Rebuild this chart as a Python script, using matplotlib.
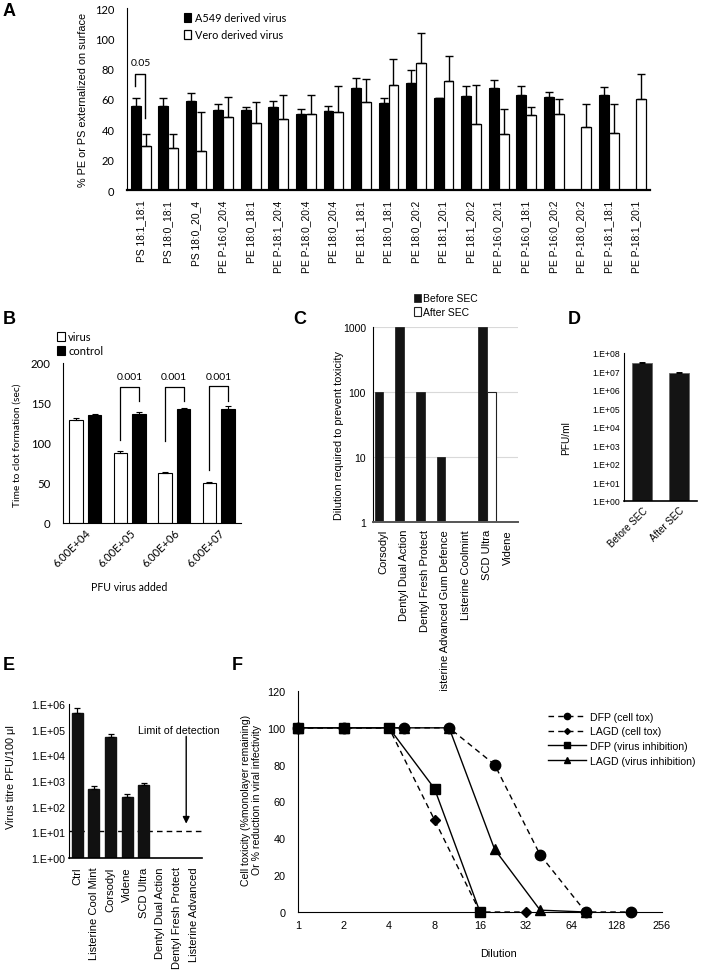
import numpy as np
import matplotlib
matplotlib.use('Agg')
import matplotlib.pyplot as plt
from matplotlib.ticker import FixedLocator, NullLocator, FuncFormatter

plt.rcParams['font.family'] = ['Liberation Sans', 'DejaVu Sans']
CAL = ['Lato', 'DejaVu Sans']

# ---------------- data ----------------
a_categories = ["PS 18:1_18:1", "PS 18:0_18:1", "PS 18:0_20_4", "PE P-16:0_20:4",
                "PE 18:0_18:1", "PE P-18:1_20:4", "PE P-18:0_20:4", "PE 18:0_20:4",
                "PE 18:1_18:1", "PE 18:0_18:1", "PE 18:0_20:2", "PE 18:1_20:1",
                "PE 18:1_20:2", "PE P-16:0_20:1", "PE P-16:0_18:1", "PE P-16:0_20:2",
                "PE P-18:0_20:2", "PE P-18:1_18:1", "PE P-18:1_20:1"]
a549_vals = [55.6, 55.4, 58.5, 52.7, 52.5, 54.7, 49.9, 51.8, 67.5, 57.1, 70.8, 60.4,
             61.8, 67.1, 62.7, 61.3, np.nan, 62.7, np.nan]
a549_err = [5.0, 5.5, 5.3, 4.0, 2.0, 4.0, 3.3, 3.3, 6.2, 3.5, 8.6, 0.5,
            6.6, 5.3, 6.1, 3.1, np.nan, 5.5, np.nan]
vero_vals = [29.1, 28.0, 26.0, 47.9, 43.9, 46.8, 49.9, 51.6, 57.8, 69.3, 83.6, 71.7,
             43.5, 36.8, 49.2, 49.9, 41.5, 37.5, 60.2]
vero_err = [7.7, 8.6, 25.6, 13.2, 14.3, 15.9, 13.0, 17.2, 15.4, 16.8, 19.9, 16.5,
            25.8, 16.6, 5.7, 10.3, 15.4, 19.2, 16.3]
a_sig_label = "0.05"
a_sig_low = [68.4, 47.4]
a_sig_top = 76.3

b_categories = ["6.00E+04", "6.00E+05", "6.00E+06", "6.00E+07"]
b_virus = [129.2, 87.9, 62.5, 49.6]
b_virus_err = [2.1, 2.5, 0.8, 1.7]
b_control = [135.0, 136.3, 142.1, 142.1]
b_control_err = [1.3, 2.5, 2.1, 3.7]
b_pvals = [None, "0.001", "0.001", "0.001"]
b_br_left = [np.nan, 104.0, 102.5, 66.0]
b_br_top = [np.nan, 170.0, 170.0, 171.0]
b_br_right = [np.nan, 152.0, 152.0, 152.0]

c_categories = ["Corsodyl", "Dentyl Dual Action", "Dentyl Fresh Protect",
                "Listerine Advanced Gum Defence", "Listerine Coolmint", "SCD Ultra", "Videne"]
c_before = [100, 1000, 100, 10, np.nan, 1000, np.nan]
c_after = [np.nan, np.nan, np.nan, np.nan, np.nan, 100, np.nan]

d_categories = ["Before SEC", "After SEC"]
d_vals = [2.9e7, 8.3e6]
d_err = [2.0e6, 6.0e5]

e_categories = ["Ctrl", "Listerine Cool Mint", "Corsodyl", "Videne", "SCD Ultra",
                "Dentyl Dual Action", "Dentyl Fresh Protect", "Listerine Advanced"]
e_vals = [4.6e5, 500, 5.2e4, 240, 700, np.nan, np.nan, np.nan]
e_err = [2.3e5, 150, 1.4e4, 70, 130, np.nan, np.nan, np.nan]
e_limit = 11

f_dfp_tox_x = [1, 2, 5, 10, 20, 40, 80, 160]
f_dfp_tox_y = [100, 100, 100, 100, 80, 31, 0, 0]
f_lagd_tox_x = [1, 2, 4, 8, 16, 32]
f_lagd_tox_y = [100, 100, 100, 50, 0, 0]
f_dfp_vir_x = [1, 2, 4, 8, 16]
f_dfp_vir_y = [100, 100, 100, 67, 0]
f_lagd_vir_x = [1, 2, 5, 10, 20, 40, 80]
f_lagd_vir_y = [100, 100, 100, 100, 34, 1, 0]
f_xticks = [1, 2, 4, 8, 16, 32, 64, 128, 256]

# ---------------- layout ----------------
W, H = 724, 978
fig = plt.figure(figsize=(W / 100, H / 100), dpi=100)


def rect(l, t, r, b):
    return [l / W, 1 - b / H, (r - l) / W, (b - t) / H]


def style(ax, keep=("left", "bottom")):
    for s in ax.spines:
        ax.spines[s].set_visible(s in keep)
        ax.spines[s].set_color('black')


def upper_err(ax, x, y, e, cap=3, lw=1.0):
    x = np.asarray(x, float); y = np.asarray(y, float); e = np.asarray(e, float)
    m = np.isfinite(y) & np.isfinite(e)
    ax.errorbar(x[m], y[m], yerr=[np.zeros(m.sum()), e[m]], fmt='none', ecolor='black',
                elinewidth=lw, capsize=cap, capthick=lw, zorder=3)


# ---------------- Panel A ----------------
axA = fig.add_axes(rect(127, 9, 650, 191))
style(axA)
xa = np.arange(len(a_categories))
w = 0.36
axA.bar(xa - 0.18, a549_vals, w, color='black', edgecolor='black', lw=0.8, zorder=2,
        label='A549 derived virus')
axA.bar(xa + 0.18, vero_vals, w, color='white', edgecolor='black', lw=0.9, zorder=2,
        label='Vero derived virus')
upper_err(axA, xa - 0.18, a549_vals, a549_err)
upper_err(axA, xa + 0.18, vero_vals, vero_err)
axA.plot([xa[0] - 0.2, xa[0] - 0.2, xa[0] + 0.16, xa[0] + 0.16],
         [a_sig_low[0], a_sig_top, a_sig_top, a_sig_low[1]], color='black', lw=1)
axA.text(xa[0], a_sig_top + 5, a_sig_label, ha='center', va='bottom', fontsize=7.5,
         family=CAL)
axA.set_xlim(-0.5, len(a_categories) - 0.5)
axA.set_ylim(0, 120)
axA.set_yticks(np.arange(0, 121, 20))
axA.set_xticks(xa)
axA.set_xticklabels(a_categories, rotation=90, fontsize=7.4, va='top')
axA.tick_params(axis='x', length=0, pad=7)
axA.tick_params(axis='y', length=0, pad=9, labelsize=8)
for t in axA.get_yticklabels():
    t.set_family(CAL)
axA.spines['bottom'].set_linewidth(1.6)
axA.set_ylabel("% PE or PS externalized on surface", fontsize=7.8)
axA.yaxis.set_label_coords(-0.074, 0.5)
axA.legend(loc='upper left', bbox_to_anchor=(0.09, 1.03), frameon=False,
           handlelength=0.7, handleheight=0.9, handletextpad=0.3,
           labelspacing=0.55, prop={'family': CAL, 'size': 7.8})

# ---------------- Panel B ----------------
axB = fig.add_axes(rect(63, 364, 241, 524))
style(axB)
xb = np.arange(len(b_categories))
axB.bar(xb - 0.21, b_virus, 0.31, color='white', edgecolor='black', lw=0.8, zorder=2,
        label='virus')
axB.bar(xb + 0.21, b_control, 0.31, color='black', edgecolor='black', lw=0.8, zorder=2,
        label='control')
upper_err(axB, xb - 0.21, b_virus, b_virus_err, cap=2.5, lw=0.8)
upper_err(axB, xb + 0.21, b_control, b_control_err, cap=2.5, lw=0.8)
for i, p in enumerate(b_pvals):
    if p is None:
        continue
    axB.plot([i - 0.21, i - 0.21, i + 0.21, i + 0.21],
             [b_br_left[i], b_br_top[i], b_br_top[i], b_br_right[i]], color='black', lw=0.9)
    axB.text(i, b_br_top[i] + 7, p, ha='center', va='bottom', fontsize=7.5, family=CAL)
axB.set_xlim(-0.5, len(b_categories) - 0.5)
axB.set_ylim(0, 200)
axB.set_yticks(np.arange(0, 201, 50))
axB.set_xticks(xb)
axB.set_xticklabels(b_categories, rotation=45, ha='right', rotation_mode='anchor',
                    fontsize=8, family=CAL)
axB.tick_params(axis='x', length=0, pad=3)
axB.tick_params(axis='y', length=0, pad=9, labelsize=8.2)
for t in axB.get_yticklabels():
    t.set_family(CAL)
axB.set_ylabel("Time to clot formation (sec)", fontsize=7.4, family=CAL)
axB.yaxis.set_label_coords(-0.235, 0.49)
axB.set_xlabel("PFU virus added", fontsize=7.6, family=CAL)
axB.xaxis.set_label_coords(0.37, -0.36)
axB.legend(loc='upper left', bbox_to_anchor=(-0.09, 1.26), frameon=False,
           handlelength=0.7, handleheight=0.9, handletextpad=0.3, labelspacing=0.25,
           prop={'family': CAL, 'size': 8})

# ---------------- Panel C ----------------
axC = fig.add_axes(rect(373, 328, 518, 523))
style(axC)
xc = np.arange(len(c_categories))
cb = np.array(c_before, float); ca = np.array(c_after, float)
mb = np.isfinite(cb); ma = np.isfinite(ca)
axC.set_yscale('log')
axC.bar(xc[mb] - 0.21, cb[mb], 0.41, color='#141414', edgecolor='#141414', lw=0.5,
        zorder=2, label='Before SEC')
axC.bar(xc[ma] + 0.21, ca[ma], 0.41, color='white', edgecolor='#222222', lw=0.8,
        zorder=2, label='After SEC')
axC.set_ylim(1, 1000)
axC.set_xlim(-0.5, len(c_categories) - 0.5)
axC.yaxis.set_major_locator(FixedLocator([1, 10, 100, 1000]))
axC.yaxis.set_minor_locator(NullLocator())
axC.yaxis.set_major_formatter(FuncFormatter(lambda v, p: f"{v:g}"))
axC.yaxis.grid(True, color='#d9d9d9', lw=0.8)
axC.set_axisbelow(True)
axC.spines['bottom'].set_color('#555555')
axC.spines['bottom'].set_linewidth(1.4)
axC.set_xticks(xc)
axC.set_xticklabels(c_categories, rotation=90, fontsize=8, va='top')
axC.tick_params(axis='x', length=0, pad=5)
axC.tick_params(axis='y', length=0, pad=5, labelsize=7.5)
axC.set_ylabel("Dilution required to prevent toxicity", fontsize=7.8)
axC.yaxis.set_label_coords(-0.2, 0.45)
axC.legend(loc='upper left', bbox_to_anchor=(0.22, 1.22), frameon=False,
           handlelength=0.6, handleheight=0.9, handletextpad=0.2, labelspacing=0.35,
           prop={'size': 7.5})

# ---------------- Panel D ----------------
axD = fig.add_axes(rect(624, 354, 697, 502))
style(axD)
xd = np.arange(len(d_categories))
axD.set_yscale('log')
axD.bar(xd, d_vals, 0.55, color='#141414', edgecolor='#666666', lw=0.6, zorder=2)
upper_err(axD, xd, d_vals, d_err, cap=2, lw=0.7)
axD.set_ylim(1, 1e8)
axD.set_xlim(-0.5, len(d_categories) - 0.5)
axD.yaxis.set_major_locator(FixedLocator([10.0 ** k for k in range(0, 9)]))
axD.yaxis.set_minor_locator(NullLocator())
axD.yaxis.set_major_formatter(FuncFormatter(lambda v, p: "1.E+%02d" % int(round(np.log10(v)))))
axD.set_xticks(xd)
axD.set_xticklabels(d_categories, rotation=45, ha='right', rotation_mode='anchor', fontsize=7)
axD.tick_params(axis='x', length=0, pad=3)
axD.tick_params(axis='y', length=0, pad=3, labelsize=6.2)
axD.spines['bottom'].set_linewidth(1.2)
axD.set_ylabel("PFU/ml", fontsize=7.3)
axD.yaxis.set_label_coords(-0.72, 0.43)

# ---------------- Panel E ----------------
axE = fig.add_axes(rect(69, 705, 202, 859))
style(axE)
xe = np.arange(len(e_categories))
ev = np.array(e_vals, float); me = np.isfinite(ev)
axE.set_yscale('log')
axE.axhline(e_limit, color='black', lw=1, ls=(0, (4, 3)), zorder=1)
axE.bar(xe[me], ev[me], 0.66, color='#111111', edgecolor='#111111', zorder=2)
upper_err(axE, xe, e_vals, e_err, cap=2.5, lw=0.9)
axE.set_ylim(1, 1e6)
axE.set_xlim(-0.5, len(e_categories) - 0.5)
axE.yaxis.set_major_locator(FixedLocator([10.0 ** k for k in range(0, 7)]))
axE.yaxis.set_minor_locator(NullLocator())
axE.yaxis.set_major_formatter(FuncFormatter(lambda v, p: "1.E+%02d" % int(round(np.log10(v)))))
axE.set_xticks(xe)
axE.set_xticklabels(e_categories, rotation=90, fontsize=8, va='top')
axE.tick_params(axis='x', length=0, pad=6)
axE.tick_params(axis='y', length=0, pad=3, labelsize=7.7)
axE.spines['bottom'].set_linewidth(1.2)
axE.set_ylabel("Virus titre PFU/100 μl", fontsize=7.8)
axE.yaxis.set_label_coords(-0.40, 0.53)
axE.annotate("", xy=(6.55, 17), xytext=(6.55, 7e4),
             arrowprops=dict(arrowstyle='-|>', color='black', lw=1, mutation_scale=10))
axE.text(6.1, 1.0e5, "Limit of detection", ha='center', va='center', fontsize=7.7,
         clip_on=False)

# ---------------- Panel F ----------------
axF = fig.add_axes(rect(298, 692, 662, 913))
style(axF)
axF.set_xscale('log', base=2)
dash = (0, (4, 3))
axF.plot(f_dfp_tox_x, f_dfp_tox_y, color='black', lw=1, ls=dash, marker='o', ms=7.5,
         clip_on=False, zorder=3, label='DFP (cell tox)')
axF.plot(f_lagd_tox_x, f_lagd_tox_y, color='black', lw=1, ls=dash, marker='D', ms=5,
         clip_on=False, zorder=3, label='LAGD (cell tox)')
axF.plot(f_dfp_vir_x, f_dfp_vir_y, color='black', lw=1, ls='-', marker='s', ms=7.5,
         clip_on=False, zorder=4, label='DFP (virus inhibition)')
axF.plot(f_lagd_vir_x, f_lagd_vir_y, color='black', lw=1, ls='-', marker='^', ms=7,
         clip_on=False, zorder=3, label='LAGD (virus inhibition)')
axF.set_xlim(1, 256)
axF.set_ylim(0, 120)
axF.xaxis.set_major_locator(FixedLocator(f_xticks))
axF.xaxis.set_minor_locator(NullLocator())
axF.xaxis.set_major_formatter(FuncFormatter(lambda v, p: f"{v:g}"))
axF.set_yticks(np.arange(0, 121, 20))
axF.tick_params(axis='both', length=0, labelsize=7.8)
axF.tick_params(axis='y', pad=9)
axF.tick_params(axis='x', pad=6)
axF.set_xlabel("Dilution", fontsize=7.8)
axF.xaxis.set_label_coords(0.55, -0.165)
axF.set_ylabel("Cell toxicity (%monolayer remaining)\nOr % reduction in viral infectivity",
               fontsize=7.6, linespacing=1.1)
axF.yaxis.set_label_coords(-0.1, 0.51)
axF.legend(loc='upper left', bbox_to_anchor=(0.66, 0.95), frameon=False, fontsize=7.6,
           handlelength=3.6, handletextpad=0.4, labelspacing=0.45, markerscale=0.6)

# ---------------- panel letters ----------------
for lab, (px, py) in {"A": (3, 12), "B": (3, 320), "C": (293, 320), "D": (568, 320),
                      "E": (3, 665), "F": (232, 665)}.items():
    fig.text(px / W, 1 - py / H, lab, fontsize=13, fontweight='bold', ha='left', va='center')

fig.savefig("out.png", dpi=100)
